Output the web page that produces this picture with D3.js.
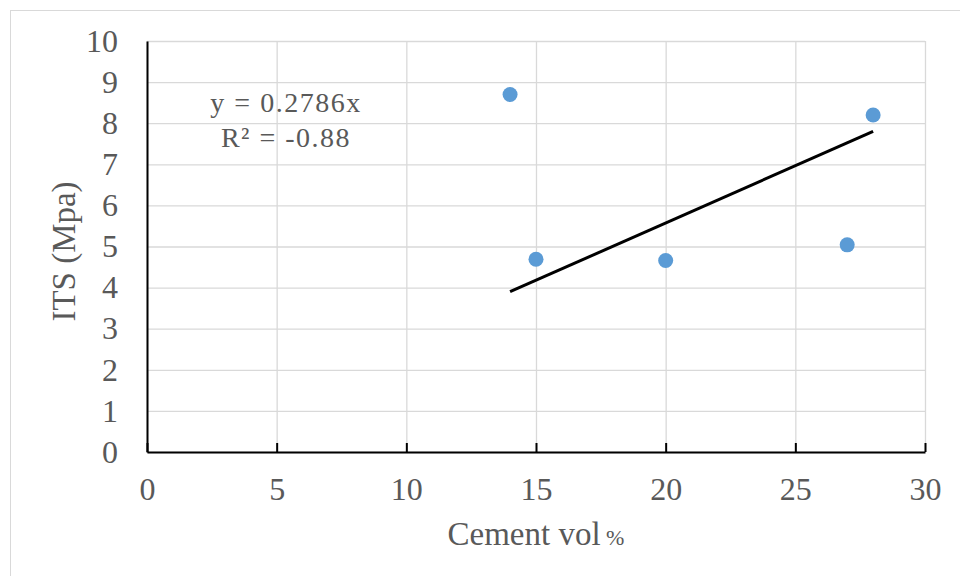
<!DOCTYPE html>
<html>
<head>
<meta charset="utf-8">
<script src="https://cdn.jsdelivr.net/npm/d3@7"></script>
<style>
    body { margin: 0; background: #fff; }
    svg text { font-family: "Liberation Serif", "Times New Roman", serif !important; fill: #595959; }
</style>
</head>
<body>
<svg id="chart" width="960" height="576"></svg>
<script>
// values
var cementVol = [14, 15, 20, 27, 28];
var itsMpa = [8.70, 4.69, 4.66, 5.04, 8.20];
var xTicks = [0, 5, 10, 15, 20, 25, 30];
var yTicks = [0, 1, 2, 3, 4, 5, 6, 7, 8, 9, 10];
var trendSlope = 0.2786;
var trendRange = [14, 28];
var trendLabel = ["y = 0.2786x", "R² = -0.88"];

var svg = d3.select("#chart");

var margin = {top: 41, right: 35, bottom: 124, left: 147},
    width = 960 - margin.left - margin.right,
    height = 576 - margin.top - margin.bottom;

// outer chart border (runs off the right/bottom edge)
svg.append("rect")
    .attr("x", 10.5).attr("y", 10.5)
    .attr("width", 980).attr("height", 600)
    .attr("fill", "none")
    .attr("stroke", "#d9d9d9")
    .attr("stroke-width", 1);

var g = svg.append("g").attr("transform", "translate(" + margin.left + "," + margin.top + ")");

var x = d3.scaleLinear().domain([0, 30]).range([0, width]);
var y = d3.scaleLinear().domain([0, 10]).range([height, 0]);

// gridlines
g.append("g")
    .call(d3.axisLeft(y).tickValues(yTicks).tickSize(-width).tickFormat(""))
    .call(function(s){ s.select(".domain").remove(); })
    .selectAll("line").attr("stroke", "#d9d9d9").attr("stroke-width", 1.3);

g.append("g")
    .attr("transform", "translate(0," + height + ")")
    .call(d3.axisBottom(x).tickValues(xTicks).tickSize(-height).tickFormat(""))
    .call(function(s){ s.select(".domain").remove(); })
    .selectAll("line").attr("stroke", "#d9d9d9").attr("stroke-width", 1.3);

// x axis with inward ticks
var xAxis = g.append("g")
    .attr("transform", "translate(0," + height + ")")
    .call(d3.axisBottom(x).tickValues(xTicks).tickSizeInner(-9).tickSizeOuter(0).tickPadding(48));
xAxis.select(".domain").attr("stroke", "#000").attr("stroke-width", 2);
xAxis.selectAll(".tick line").attr("stroke", "#000").attr("stroke-width", 2);
xAxis.selectAll(".tick text")
    .attr("dy", 0)
    .style("font-size", "32px");

// y axis, no tick marks
var yAxis = g.append("g")
    .call(d3.axisLeft(y).tickValues(yTicks).tickSize(0).tickPadding(29));
yAxis.select(".domain").attr("stroke", "#000").attr("stroke-width", 2);
yAxis.selectAll(".tick text")
    .style("font-size", "32px");

// trendline
var line = d3.line()
    .x(function(d){ return x(d); })
    .y(function(d){ return y(trendSlope * d); });

g.append("path")
    .datum(trendRange)
    .attr("d", line)
    .attr("fill", "none")
    .attr("stroke", "#000")
    .attr("stroke-width", 3);

// points
g.selectAll("circle")
    .data(cementVol)
    .enter()
    .append("circle")
    .attr("cx", function(d){ return x(d); })
    .attr("cy", function(d, i){ return y(itsMpa[i]); })
    .attr("r", 7.5)
    .attr("fill", "#5b9bd5");

// trendline label
svg.append("g").selectAll("text")
    .data(trendLabel)
    .enter()
    .append("text")
    .attr("x", 286)
    .attr("y", function(d, i){ return 112 + i * 35; })
    .attr("text-anchor", "middle")
    .style("font-size", "28px")
    .style("letter-spacing", "1.5px")
    .text(function(d){ return d; });

// axis titles
var xTitle = svg.append("text")
    .attr("x", margin.left + width / 2)
    .attr("y", 545)
    .attr("text-anchor", "middle")
    .style("font-size", "33px")
    .text("Cement vol");
xTitle.append("tspan").style("font-size", "22px").text(" %");

svg.append("text")
    .attr("transform", "translate(75," + (margin.top + height / 2 + 5) + ") rotate(-90)")
    .attr("text-anchor", "middle")
    .style("font-size", "33px")
    .text("ITS (Mpa)");
</script>
</body>
</html>
